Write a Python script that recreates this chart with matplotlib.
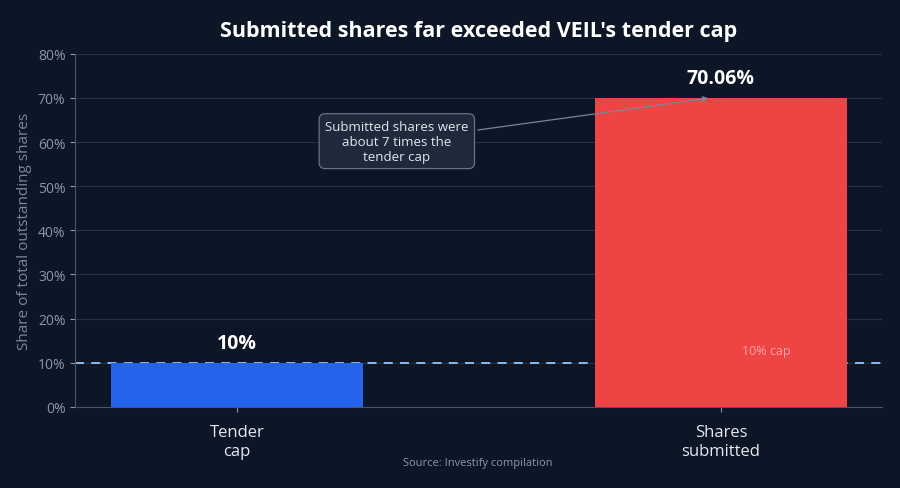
import matplotlib.pyplot as plt
from matplotlib.ticker import PercentFormatter

plt.rcParams['font.family'] = ['Open Sans', 'DejaVu Sans']

# data
categories = ['Tender\ncap', 'Shares\nsubmitted']
values = [10.0, 70.06]
value_labels = ['10%', '70.06%']
bar_colors = ['#2563eb', '#ef4444']
cap = 10.0

bg = '#0c1627'
fig, ax = plt.subplots(figsize=(9, 4.89), dpi=100)
fig.patch.set_facecolor(bg)
ax.set_facecolor(bg)
fig.subplots_adjust(left=0.0835, right=0.98, top=0.888, bottom=0.166)

x = range(len(categories))
ax.bar(x, values, width=0.52, color=bar_colors, zorder=3)

# cap reference line
ax.axhline(cap, color='#93c5fd', linestyle=(0, (5, 4)), linewidth=1.3, zorder=2)
ax.text(1.093, cap + 2.7, '10% cap', color='#f4a6ad', fontsize=9, ha='center', va='center', zorder=4)

for xi, v, lab in zip(x, values, value_labels):
    ax.text(xi, v + 2.2, lab, color='white', fontsize=14, fontweight='bold',
            ha='center', va='bottom', zorder=4)

ax.annotate('Submitted shares were\nabout 7 times the\ntender cap',
            xy=(0.98, 70), xytext=(0.33, 60.2),
            color='#e5e7eb', fontsize=9.5, ha='center', va='center',
            bbox=dict(boxstyle='round,pad=0.45', fc='#1e293b', ec='#64748b', lw=0.9),
            arrowprops=dict(arrowstyle='-|>', color='#7b8698', lw=0.9, mutation_scale=8),
            zorder=5)

ax.set_xlim(-0.335, 1.333)
ax.set_ylim(0, 80)
ax.set_yticks(range(0, 81, 10))
ax.yaxis.set_major_formatter(PercentFormatter(decimals=0))
ax.set_xticks(list(x))
ax.set_xticklabels(categories, color='#e5e7eb', fontsize=12)
ax.tick_params(axis='y', colors='#8d97a8', labelsize=10)
ax.tick_params(axis='x', colors='#8d97a8', pad=9)
for lab in ax.get_xticklabels():
    lab.set_color('#e5e7eb')

ax.grid(axis='y', color='#263244', linewidth=0.8, zorder=0)
ax.set_axisbelow(True)
for s in ['top', 'right']:
    ax.spines[s].set_visible(False)
for s in ['left', 'bottom']:
    ax.spines[s].set_color('#4b5563')

ax.set_ylabel('Share of total outstanding shares', color='#7d8799', fontsize=11)
ax.set_title("Submitted shares far exceeded VEIL's tender cap", color='white',
             fontsize=15.5, fontweight='bold', pad=13)
fig.text(0.531, 0.048, 'Source: Investify compilation', color='#8d97a8', fontsize=8, ha='center')

fig.savefig('out.png', facecolor=bg)
